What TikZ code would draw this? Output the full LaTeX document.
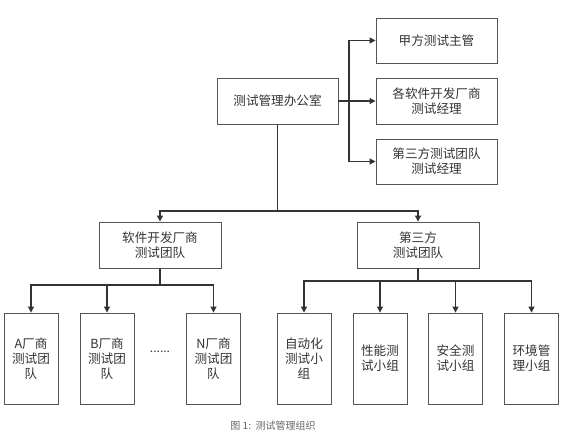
\documentclass[tikz,border=0pt]{standalone}
\usepackage{fontspec}
\setmainfont{Noto Sans CJK SC}
\usetikzlibrary{arrows.meta}
\definecolor{ink}{HTML}{333333}
\definecolor{boxc}{HTML}{555555}
\tikzset{
  box/.style={draw=boxc, line width=0.9pt, rectangle, inner sep=0pt, align=center,
    text=ink, font=\fontsize{12.6}{15}\selectfont},
  wide/.style={box, minimum width=121pt, minimum height=46pt},
  tall/.style={box, minimum width=54pt, minimum height=91pt},
  conn/.style={draw=ink, line width=1.1pt},
  arr/.style={conn, -{Triangle[length=6pt,width=6pt]}}
}
\begin{document}
\begin{tikzpicture}[x=1pt,y=-1pt]
\useasboundingbox (0,0) rectangle (586,440);
\fill[white] (0,0) rectangle (586,440);
% top
\node[wide] (office) at (277.5,101) {测试管理办公室};
\node[wide, minimum height=45pt] (r1) at (436.5,40.5) {甲方测试主管};
\node[wide] (r2) at (436.5,101) {各软件开发厂商\\测试经理};
\node[wide, minimum height=45pt] (r3) at (436.5,161.5) {第三方测试团队\\测试经理};
\coordinate (br) at (349,101);
\draw[arr] (office.east) -- (r2.west);
\draw[arr] (br) |- (r1.west);
\draw[arr] (br) |- (r3.west);
% middle
\node[wide, minimum width=122pt] (soft) at (160,245) {软件开发厂商\\测试团队};
\node[wide, minimum width=122pt] (third) at (418,245) {第三方\\测试团队};
\coordinate (j1) at (277.5,211);
\draw[conn] (office.south) -- (j1);
\draw[arr] (j1) -| (soft.north);
\draw[arr] (j1) -| (third.north);
% bottom left
\node[tall] (a) at (31,358.5) {A厂商\\测试团\\队};
\node[tall] (b) at (107,358.5) {B厂商\\测试团\\队};
\node[tall] (n) at (213.5,358.5) {N厂商\\测试团\\队};
\node[text=ink, font=\fontsize{12}{15}\selectfont] (dots) at (160,352) {......};
\coordinate (j2) at (160,285);
\draw[conn] (soft.south) -- (j2);
\draw[arr] (j2) -| (a.north);
\draw[arr] (j2) -| (b.north);
\draw[arr] (j2) -| (n.north);
% bottom right
\node[tall] (auto) at (304,358.5) {自动化\\测试小\\组};
\node[tall] (perf) at (380,358.5) {性能测\\试小组};
\node[tall] (sec) at (455.5,358.5) {安全测\\试小组};
\node[tall] (env) at (531.5,358.5) {环境管\\理小组};
\coordinate (j3) at (418,281);
\draw[conn] (third.south) -- (j3);
\draw[arr] (j3) -| (auto.north);
\draw[arr] (j3) -| (perf.north);
\draw[arr] (j3) -| (sec.north);
\draw[arr] (j3) -| (env.north);
% caption
\node[text=ink!75, font=\fontsize{10}{12}\selectfont] (cap) at (273,426) {图\ 1:\ \ 测试管理组织};
\end{tikzpicture}
\end{document}
